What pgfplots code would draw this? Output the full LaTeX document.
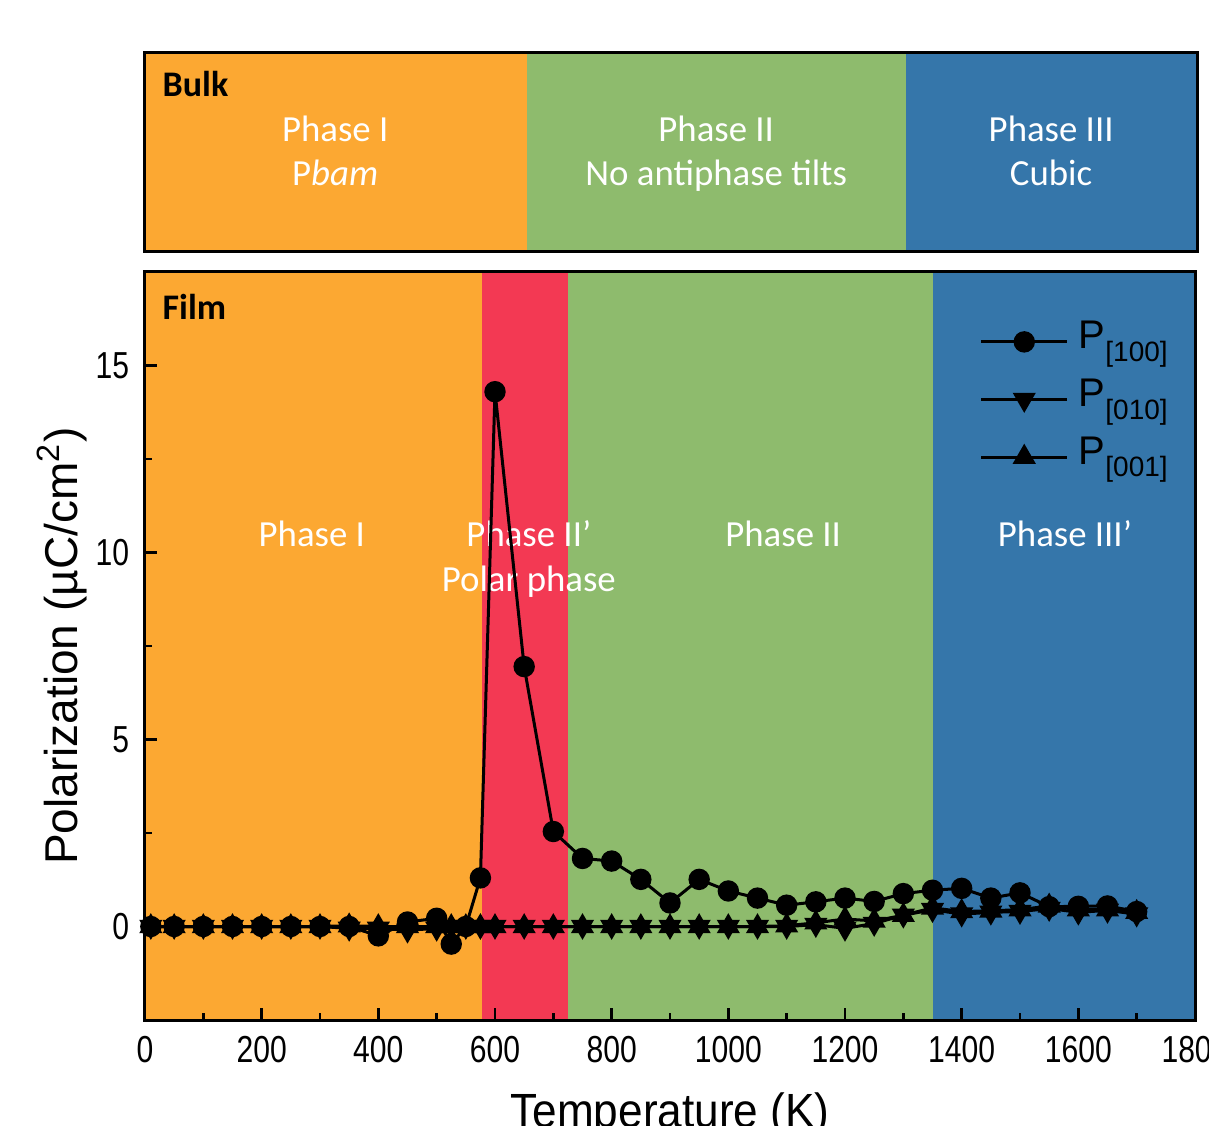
\documentclass[border=0pt]{standalone}
\usepackage{pgfplots}
\pgfplotsset{compat=1.18}
\usepackage{pgfplotstable}
\usepackage{fontspec}
\setmainfont{Liberation Sans}
\newfontfamily\tickfont{Liberation Sans}[FakeStretch=0.8]
\newfontfamily\labfont{Liberation Sans}[FakeStretch=0.92]
\newfontfamily\calfont{Carlito}
\definecolor{cOr}{RGB}{252,168,50}
\definecolor{cGr}{RGB}{142,187,109}
\definecolor{cBl}{RGB}{53,118,170}
\definecolor{cRd}{RGB}{243,57,83}

\pgfplotstableread{
T p100 p010 p001
10 0.0 0.0 0.0
50 0.0 0.0 0.0
100 0.0 0.0 0.0
150 0.0 0.0 0.0
200 0.0 0.0 0.0
250 0.0 0.0 0.0
300 0.0 0.0 0.0
350 0.0 -0.05 0.02
400 -0.25 -0.05 0.0
450 0.12 -0.1 0.0
500 0.22 -0.05 0.0
525 -0.47 0.0 0.0
550 0.0 0.0 0.0
575 1.3 0.0 0.0
600 14.3 0.0 0.0
650 6.95 0.0 0.0
700 2.54 0.0 0.0
750 1.82 0.0 0.0
800 1.75 0.0 0.0
850 1.26 0.0 0.0
900 0.63 0.0 0.0
950 1.26 0.0 0.0
1000 0.95 0.0 0.0
1050 0.76 0.0 0.0
1100 0.57 0.0 0.02
1150 0.66 0.05 0.1
1200 0.76 -0.05 0.2
1250 0.67 0.08 0.15
1300 0.88 0.3 0.3
1350 0.97 0.45 0.5
1400 1.02 0.33 0.4
1450 0.76 0.38 0.42
1500 0.9 0.4 0.45
1550 0.53 0.48 0.55
1600 0.54 0.38 0.45
1650 0.55 0.43 0.45
1700 0.4 0.33 0.38
}\datatab

\begin{document}
\begin{tikzpicture}
% ---------------- Bulk panel ----------------
\begin{axis}[name=bulk, at={(0pt,192pt)}, anchor=south west,
  scale only axis, width=263pt, height=49.75pt,
  xmin=0, xmax=1803, ymin=0, ymax=1,
  axis on top, xtick=\empty, ytick=\empty,
  axis line style={line width=0.75pt}]
\addplot[fill=cOr, draw=none] coordinates {(0,0) (0,1) (655,1) (655,0)};
\addplot[fill=cGr, draw=none] coordinates {(655,0) (655,1) (1305,1) (1305,0)};
\addplot[fill=cBl, draw=none] coordinates {(1305,0) (1305,1) (1803,1) (1803,0)};
\node[anchor=base west, inner sep=0pt, font=\calfont\bfseries\fontsize{9}{10}\selectfont] at (axis cs:29,0.779) {Bulk};
\begin{scope}[every node/.style={anchor=base, text=white, font=\calfont\fontsize{9.2}{11}\selectfont}]
\node at (axis cs:326,0.556) {Phase I};
\node at (axis cs:326,0.332) {P\textit{bam}};
\node at (axis cs:979,0.556) {Phase II};
\node at (axis cs:979,0.332) {No antiphase tilts};
\node at (axis cs:1553,0.556) {Phase III};
\node at (axis cs:1553,0.332) {Cubic};
\end{scope}
\end{axis}
% ---------------- Film panel ----------------
\begin{axis}[name=film, at={(0pt,0pt)}, anchor=south west,
  scale only axis, width=262.5pt, height=187pt,
  xmin=0, xmax=1800, ymin=-2.5, ymax=17.5,
  axis on top,
  xtick={0,200,...,1800}, ytick={0,5,10,15},
  minor x tick num=1, minor y tick num=1,
  xtick pos=left, ytick pos=left, tick align=inside,
  major tick length=3pt, minor tick length=1.75pt,
  every tick/.style={black, line width=0.7pt},
  axis line style={line width=0.75pt},
  /pgf/number format/assume math mode=true,
  /pgf/number format/1000 sep={},
  scaled ticks=false,
  ticklabel style={font=\tickfont\fontsize{9.4}{11}\selectfont},
  xticklabel style={inner sep=0pt, yshift=-3.75pt},
  yticklabel style={inner sep=0pt, xshift=-3.75pt},
  xlabel={Temperature (K)},
  ylabel={Polarization (µC/cm\textsuperscript{2})},
  every axis x label/.style={at={(axis description cs:0.5,0)}, anchor=north, yshift=-18pt, inner sep=0pt, font=\labfont\fontsize{12}{14}\selectfont},
  every axis y label/.style={at={(axis description cs:-0.079,0.5)}, rotate=90, anchor=center, inner sep=0pt, font=\fontsize{11.5}{13}\selectfont},
  legend style={at={(axis description cs:0.795,0.94)}, anchor=north west, draw=none, fill=none, inner sep=0pt, outer sep=0pt,
    row sep=1.9pt, column sep=2pt, font=\fontsize{10}{12}\selectfont,
    nodes={inner sep=0.5pt, text height=7.5pt, text depth=4pt}},
  legend cell align=left,
  legend image code/.code={\draw[mark repeat=2, mark phase=2, #1] plot coordinates {(0pt,0pt) (10.75pt,0pt) (21.5pt,0pt)};}
]
\addplot[fill=cOr, draw=none, forget plot] coordinates {(0,-2.5) (0,17.5) (577,17.5) (577,-2.5)};
\addplot[fill=cRd, draw=none, forget plot] coordinates {(577,-2.5) (577,17.5) (725,17.5) (725,-2.5)};
\addplot[fill=cGr, draw=none, forget plot] coordinates {(725,-2.5) (725,17.5) (1350,17.5) (1350,-2.5)};
\addplot[fill=cBl, draw=none, forget plot] coordinates {(1350,-2.5) (1350,17.5) (1800,17.5) (1800,-2.5)};
\node[anchor=base west, inner sep=0pt, font=\calfont\bfseries\fontsize{9}{10}\selectfont] at (axis cs:29,16.23) {Film};
\begin{scope}[every node/.style={anchor=base, text=white, font=\calfont\fontsize{9.2}{11}\selectfont}]
\node at (axis cs:286,10.16) {Phase I};
\node at (axis cs:658,10.16) {Phase II’};
\node at (axis cs:658,8.96) {Polar phase};
\node at (axis cs:1094,10.16) {Phase II};
\node at (axis cs:1577,10.16) {Phase III’};
\end{scope}
\addplot[black, line width=0.75pt, mark=*, mark size=2.3pt] table[x=T, y=p100] {\datatab};
\addlegendentry{P\raisebox{-3.2pt}{\fontsize{7}{8}\selectfont[100]}}
\addplot[black, line width=0.75pt, mark=triangle*, mark size=2.6pt, mark options={rotate=180}] table[x=T, y=p010] {\datatab};
\addlegendentry{P\raisebox{-3.2pt}{\fontsize{7}{8}\selectfont[010]}}
\addplot[black, line width=0.75pt, mark=triangle*, mark size=2.6pt] table[x=T, y=p001] {\datatab};
\addlegendentry{P\raisebox{-3.2pt}{\fontsize{7}{8}\selectfont[001]}}
\end{axis}
\pgfresetboundingbox
\useasboundingbox (-36.25pt,-26.25pt) rectangle (266pt,255pt);
\end{tikzpicture}
\end{document}
